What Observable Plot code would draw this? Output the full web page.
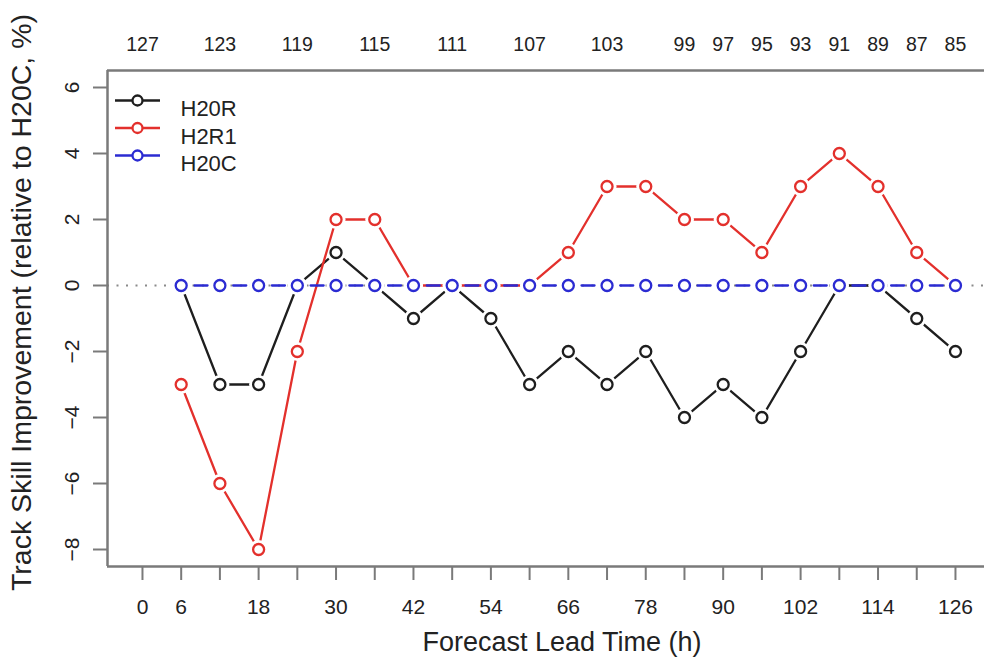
<!DOCTYPE html>
<html><head><meta charset="utf-8">
<script src="https://cdn.jsdelivr.net/npm/d3@7"></script>
<script src="https://cdn.jsdelivr.net/npm/@observablehq/plot@0.6"></script>
<style>
body{margin:0;background:#fff;font-family:"Liberation Sans",Arial,Helvetica,sans-serif}
#chart svg{display:block}
</style>
</head><body><div id="chart"></div>
<script>
// ---- data ----
const leadTimes = [6,12,18,24,30,36,42,48,54,60,66,72,78,84,90,96,102,108,114,120,126];
const h20r = [0,-3,-3,0,1,0,-1,0,-1,-3,-2,-3,-2,-4,-3,-4,-2,0,0,-1,-2];
const h2r1 = [-3,-6,-8,-2,2,2,0,0,0,0,1,3,3,2,2,1,3,4,3,1,0];
const h20c = [0,0,0,0,0,0,0,0,0,0,0,0,0,0,0,0,0,0,0,0,0];
const seriesNames = ["H20R","H2R1","H20C"];
const seriesColors = ["#1e1e1e","#e3302c","#2b2bd2"];
const xTicks = [0,6,12,18,24,30,36,42,48,54,60,66,72,78,84,90,96,102,108,114,120,126];
const xTickLabels = [0,6,18,30,42,54,66,78,90,102,114,126];
const yTicks = [-8,-6,-4,-2,0,2,4,6];
const countHours = [0,12,24,36,48,60,72,84,90,96,102,108,114,120,126];
const countValues = [127,123,119,115,111,107,103,99,97,95,93,91,89,87,85];
const xTitle = "Forecast Lead Time (h)";
const yTitle = "Track Skill Improvement (relative to H20C, %)";
const xDomain = [-5.42, 130.5];
const yDomain = [-8.515, 6.515];

const seriesValues = [h20r, h2r1, h20c];
const series = seriesNames.map((name, k) => leadTimes.map((t, i) => ({t, v: seriesValues[k][i], name})));

const axisGray = "#7a7a7a";
const textColor = "#222";
const lineSymbol = {draw(ctx){ ctx.moveTo(-22.5,0); ctx.lineTo(22.5,0); }};

const marks = [
  Plot.ruleY([0], {stroke:"#8a8a8a", strokeWidth:2, strokeDasharray:"2,7.5"}),
];
series.forEach((d, k) => {
  const c = seriesColors[k];
  const dashed = k === 2;
  marks.push(Plot.line(d, {x:"t", y:"v", stroke:c, strokeWidth:2.3,
    strokeDasharray: dashed ? "13,25.7" : null, strokeDashoffset: dashed ? 25.35 : null}));
  marks.push(Plot.dot(d, {x:"t", y:"v", r:9.5, fill:"white", stroke:"none"}));
  marks.push(Plot.dot(d, {x:"t", y:"v", r:5.5, fill:"white", stroke:c, strokeWidth:2.3}));
  // legend
  marks.push(Plot.dot([seriesNames[k]], {frameAnchor:"top-left", dx:30, dy:30 + 27.5*k, symbol:lineSymbol, r:5, stroke:c, strokeWidth:2.3, fill:"none"}));
  marks.push(Plot.dot([seriesNames[k]], {frameAnchor:"top-left", dx:30, dy:30 + 27.5*k, r:5, fill:"white", stroke:c, strokeWidth:2.3}));
  marks.push(Plot.text([seriesNames[k]], {frameAnchor:"top-left", dx:73, dy:30 + 27.5*k, text:d=>d, textAnchor:"start", fontSize:22, fill:textColor}));
});
marks.push(
  Plot.ruleY([yDomain[1], yDomain[0]], {stroke:axisGray, strokeWidth:2.5}),
  Plot.ruleX([xDomain[0]], {stroke:axisGray, strokeWidth:2.5}),
  Plot.axisY({ticks:yTicks, tickSize:14, tickPadding:15, tickRotate:-90, fontSize:21, stroke:axisGray, strokeWidth:2, fill:textColor, label:null, tickFormat:d=>d<0?"\u2212"+(-d):String(d)}),
  Plot.axisX({ticks:xTicks, tickSize:14, tickPadding:19, fontSize:21, stroke:axisGray, strokeWidth:2, fill:textColor, label:null,
    tickFormat:d=>xTickLabels.includes(d)?String(d):""}),
  Plot.axisX({anchor:"top", ticks:countHours, tickSize:0, tickPadding:20, fontSize:19.5, fill:textColor, label:null,
    tickFormat:d=>String(countValues[countHours.indexOf(d)])}),
  Plot.text([xTitle], {frameAnchor:"bottom", dx:16, dy:84, text:d=>d, fontSize:27, fill:textColor, textAnchor:"middle"}),
  Plot.text([yTitle], {frameAnchor:"left", dx:-86, dy:-16, rotate:-90, text:d=>d, fontSize:28.5, fill:textColor, textAnchor:"middle"})
);

const chart = Plot.plot({
  width: 984, height: 666,
  marginLeft: 107, marginRight: 0, marginTop: 70, marginBottom: 100,
  style: {fontFamily:'"Liberation Sans",Arial,Helvetica,sans-serif', background:"white", overflow:"visible"},
  x: {domain: xDomain},
  y: {domain: yDomain},
  marks
});
document.getElementById("chart").appendChild(chart);
</script>
</body></html>
